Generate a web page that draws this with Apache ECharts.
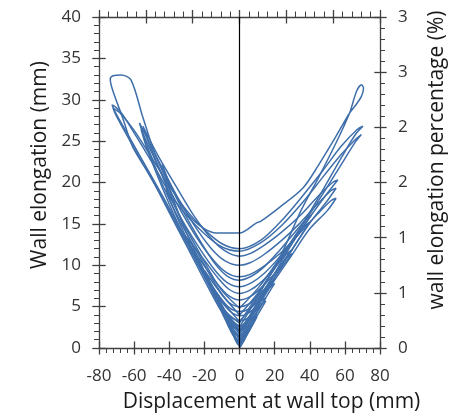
<!DOCTYPE html>
<html>
<head>
<meta charset="utf-8">
<script src="https://cdn.jsdelivr.net/npm/echarts@6/dist/echarts.min.js"></script>
<style>html,body{margin:0;padding:0;background:#fff}#c{width:462px;height:420px}</style>
</head>
<body>
<div id="c"></div>
<script>
// ---- data: displacement (mm), wall elongation (mm) per loading cycle ----
const cycle01 = [[0,0],[1.5,0.5],[3,1.1],[2.5,1.05],[1.2,0.75],[0,0.6],[-1.5,0.8],[-3,1.3],[-2.4,1.0],[-1.2,0.5],[0,0.2]];
const cycle02 = [[0,0.2],[2.5,0.9],[5,2.0],[4.2,1.9],[2,1.25],[0,1.0],[-2.5,1.3],[-5,2.3],[-4,1.8],[-2,0.9],[0,0.4]];
const cycle03 = [[0,0.4],[3.5,1.3],[7.5,2.9],[6.5,2.8],[3.5,2.0],[0,1.5],[-3.5,1.9],[-7.5,3.2],[-6.5,2.7],[-3.5,1.5],[0,0.6]];
const cycle04 = [[0,0.6],[5,1.9],[10,3.8],[8.5,3.6],[5,2.8],[2,2.2],[0,2.1],[-2,2.3],[-5,2.9],[-10,4.3],[-8.5,3.6],[-5,2.2],[-2,1.0],[0,0.7]];
const cycle05 = [[0,0.7],[5,2.1],[10,4.1],[8.5,3.9],[5,3.2],[2,2.8],[0,2.7],[-2,2.9],[-5,3.4],[-10,4.6],[-8.5,3.9],[-5,2.5],[-2,1.2],[0,0.9]];
const cycle06 = [[0,0.9],[5,2.3],[10,3.9],[15,5.7],[13,5.4],[8,4.2],[4,3.5],[0,3.3],[-4,3.6],[-8,4.4],[-15,6.6],[-13,5.7],[-8,3.7],[-4,2.1],[0,1.1]];
const cycle07 = [[0,1.1],[5,2.6],[10,4.3],[15,6.1],[13,5.8],[8,4.7],[4,4.1],[0,3.9],[-4,4.2],[-8,5.0],[-15,7.0],[-13,6.1],[-8,4.1],[-4,2.4],[0,1.4]];
const cycle08 = [[0,1.4],[5,2.8],[10,4.4],[15,6.1],[20,7.8],[18,7.5],[12,6.0],[6,4.8],[0,4.4],[-6,4.9],[-12,6.4],[-20,8.9],[-18,8.0],[-12,5.6],[-6,3.3],[0,1.7]];
const cycle09 = [[0,1.7],[5,3.1],[10,4.8],[15,6.6],[20,8.3],[18,8.0],[12,6.6],[6,5.4],[0,5.0],[-6,5.5],[-12,7.0],[-20,9.4],[-18,8.5],[-12,6.0],[-6,3.6],[0,2.0]];
const cycle10 = [[0,2.0],[6,3.8],[12,5.9],[18,7.9],[24,9.7],[30,11.4],[27,10.9],[20,9.0],[12,7.2],[6,6.2],[0,5.8],[-6,6.3],[-12,7.6],[-20,9.9],[-30,13.0],[-27,11.8],[-20,8.8],[-12,5.6],[-6,3.4],[0,2.1]];
const cycle11 = [[0,2.1],[6,4.0],[12,6.2],[18,8.3],[24,10.2],[30,11.9],[27,11.4],[20,9.7],[12,7.9],[6,7.0],[0,6.6],[-6,7.1],[-12,8.4],[-20,10.6],[-31,13.6],[-28,12.4],[-20,9.2],[-12,5.9],[-6,3.6],[0,1.8]];
const cycle12 = [[0,1.8],[8,4.2],[16,7.1],[24,9.9],[32,12.6],[40,15.2],[37,14.7],[30,12.9],[22,10.8],[14,9.0],[7,7.9],[0,7.4],[-7,7.9],[-14,9.4],[-22,11.8],[-32,15.2],[-42,19.3],[-39,17.5],[-30,13.2],[-20,8.9],[-10,4.8],[0,2.0]];
const cycle13 = [[0,2.0],[8,4.5],[16,7.5],[24,10.5],[32,13.3],[41,16.1],[38,15.6],[30,13.6],[22,11.6],[14,9.8],[7,8.7],[0,8.2],[-7,8.7],[-14,10.2],[-22,12.8],[-32,16.5],[-40,20.0],[-44,22.2],[-41,20.0],[-32,14.8],[-22,10.2],[-12,5.8],[0,2.2]];
const cycle14 = [[0,2.2],[10,5.0],[20,8.2],[30,11.3],[40,14.4],[50,16.6],[55,18.1],[52,17.8],[44,16.1],[34,13.8],[24,11.6],[14,9.9],[6,8.9],[0,8.6],[-8,9.2],[-16,10.9],[-26,13.9],[-36,17.6],[-46,21.8],[-56,26.4],[-53,24.3],[-44,19.4],[-34,14.6],[-22,9.9],[-11,6.0],[0,3.2]];
const cycle15 = [[0,3.2],[10,5.8],[20,8.9],[30,11.9],[40,15.1],[50,17.8],[55,19.3],[52,19.0],[44,17.3],[34,15.0],[24,13.0],[14,11.3],[6,10.3],[0,10.0],[-8,10.5],[-16,12.0],[-26,14.9],[-36,18.5],[-46,22.6],[-57,27.2],[-54,25.3],[-45,20.3],[-34,15.4],[-22,10.8],[-11,6.8],[0,4.0]];
const cycle16 = [[0,4.0],[10,6.5],[20,9.6],[30,12.7],[40,15.8],[50,18.7],[56,20.3],[53,20.0],[45,18.4],[35,16.1],[24,14.0],[14,12.4],[6,11.4],[0,11.1],[-8,11.7],[-16,13.2],[-26,16.0],[-36,19.5],[-46,23.1],[-55,26.8],[-52,25.0],[-44,20.8],[-34,15.9],[-22,11.2],[-11,7.2],[0,4.8]];
const cycle17 = [[0,4.8],[12,7.6],[24,11.2],[36,14.9],[48,18.8],[58,22.2],[66,24.9],[69.4,25.8],[66,25.2],[58,23.4],[48,20.8],[36,17.6],[24,14.8],[12,12.7],[0,11.7],[-10,12.2],[-20,13.8],[-30,16.0],[-40,18.8],[-50,22.5],[-60,26.0],[-68,28.6],[-72.6,29.4],[-71,28.6],[-62,25.2],[-50,20.7],[-40,16.9],[-30,12.9],[-20,8.8],[-10,4.9],[0,3.0]];
const cycle18 = [[0,3.0],[12,7.0],[24,11.0],[36,15.0],[48,19.3],[58,23.0],[66,25.8],[70.3,26.8],[67,26.4],[58,24.4],[48,21.6],[36,18.4],[24,15.4],[12,13.0],[0,12.0],[-10,12.6],[-20,14.3],[-30,16.6],[-40,19.6],[-50,23.0],[-60,26.3],[-68,28.4],[-72,29.0],[-70.5,28.2],[-62,24.9],[-50,20.4],[-40,16.6],[-30,12.6],[-20,8.6],[-10,4.7],[0,2.5]];
const cycle19 = [[0,2.5],[12,6.8],[24,11.4],[35,16.6],[45,20.6],[55,24.8],[62.7,28.4],[66.6,31.0],[69.5,31.8],[70.6,31.4],[69.4,30.4],[66,29.3],[62.7,28.4],[55,25.6],[45,22.1],[36,19.3],[22.8,17.0],[12,15.3],[9.5,15.1],[0,13.9],[-13.3,13.9],[-26.6,15.5],[-38,19.0],[-47.5,23.1],[-55.2,28.0],[-61.8,32.4],[-67.5,33.0],[-72,32.9],[-73.6,32.5],[-72.3,31.2],[-66.5,27.8],[-60.8,24.3],[-50,20.5],[-41.8,17.1],[-30,12.3],[-20,8.2],[-10,4.3],[0,1.2]];

const cycles = [cycle01,cycle02,cycle03,cycle04,cycle05,cycle06,cycle07,cycle08,cycle09,cycle10,
                cycle11,cycle12,cycle13,cycle14,cycle15,cycle16,cycle17,cycle18,cycle19];
const zeroLine = [0];
const rightTickLabels = ['0','1','1','2','2','3','3'];

// ---- chart ----
const FONT = 'Open Sans';
const AX = '#404040';
const TXT = '#333333';
const LINE = '#3f6fab';
const chart = echarts.init(document.getElementById('c'), null, {renderer: 'canvas'});

const series = cycles.map((c, i) => ({
  type: 'line', data: c, xAxisIndex: 0, yAxisIndex: 0,
  showSymbol: false, smooth: 0.3, animation: false,
  lineStyle: {color: LINE, width: 1.5},
  markLine: i === 0 ? {
    silent: true, symbol: ['none','none'], animation: false,
    label: {show: false},
    lineStyle: {color: '#000', width: 1.2, type: 'solid'},
    data: zeroLine.map(v => ({xAxis: v}))
  } : undefined
}));

const tickStyle = {color: AX, width: 1.3};
chart.setOption({
  animation: false,
  grid: {left: 99, right: 82, top: 17, bottom: 72},
  xAxis: [
    {type:'value', position:'bottom', min:-80, max:80, interval:20,
     axisLine:{show:true, onZero:false, lineStyle:tickStyle},
     axisTick:{show:true, inside:false, length:6.5, lineStyle:tickStyle},
     minorTick:{show:true, splitNumber:5, length:5, lineStyle:{color:AX, width:1}},
     splitLine:{show:false},
     axisLabel:{fontSize:17, color:TXT, margin:20, fontFamily:FONT},
     name:'Displacement at wall top (mm)', nameLocation:'middle', nameGap:44,
     nameTextStyle:{fontSize:21, color:'#1a1a1a', fontFamily:FONT, padding:[0,0,0,64]}},
    {type:'value', position:'bottom', min:-80, max:80, interval:20,
     axisLine:{show:false, onZero:false}, axisTick:{show:true, inside:true, length:6.5, lineStyle:tickStyle},
     axisLabel:{show:false}, splitLine:{show:false}},
    {type:'value', position:'top', min:-3, max:3, interval:1,
     axisLine:{show:true, onZero:false, lineStyle:tickStyle},
     axisTick:{show:true, inside:false, length:7, lineStyle:tickStyle},
     minorTick:{show:true, splitNumber:5, length:5.5, lineStyle:{color:AX, width:1}},
     axisLabel:{show:false}, splitLine:{show:false}},
    {type:'value', position:'top', min:-3, max:3, interval:1,
     axisLine:{show:false, onZero:false}, axisTick:{show:true, inside:true, length:6.5, lineStyle:tickStyle},
     axisLabel:{show:false}, splitLine:{show:false}}
  ],
  yAxis: [
    {type:'value', position:'left', min:0, max:40, interval:5,
     axisLine:{show:true, onZero:false, lineStyle:tickStyle},
     axisTick:{show:true, inside:false, length:6.7, lineStyle:tickStyle},
     minorTick:{show:true, splitNumber:5, length:5, lineStyle:{color:AX, width:1}},
     splitLine:{show:false},
     axisLabel:{fontSize:17, color:TXT, margin:18, fontFamily:FONT},
     name:'Wall elongation (mm)', nameLocation:'middle', nameGap:47, nameRotate:90,
     nameTextStyle:{fontSize:21, color:'#1a1a1a', fontFamily:FONT, padding:[0,0,0,35]}},
    {type:'value', position:'left', min:0, max:40, interval:5,
     axisLine:{show:false, onZero:false}, axisTick:{show:true, inside:true, length:6.7, lineStyle:tickStyle},
     axisLabel:{show:false}, splitLine:{show:false}},
    {type:'value', position:'right', min:0, max:3, interval:0.5,
     axisLine:{show:true, onZero:false, lineStyle:tickStyle},
     axisTick:{show:true, inside:false, length:6.7, lineStyle:tickStyle},
     minorTick:{show:true, splitNumber:5, length:5, lineStyle:{color:AX, width:1}},
     splitLine:{show:false},
     axisLabel:{fontSize:17, color:TXT, margin:18, fontFamily:FONT,
                formatter:(v) => rightTickLabels[Math.round(v / 0.5)]},
     name:'wall elongation percentage (%)', nameLocation:'middle', nameGap:47, nameRotate:90,
     nameTextStyle:{fontSize:21, color:'#1a1a1a', fontFamily:FONT, padding:[0,0,0,45]}},
    {type:'value', position:'right', min:0, max:3, interval:0.5,
     axisLine:{show:false, onZero:false}, axisTick:{show:true, inside:true, length:5.7, lineStyle:tickStyle},
     axisLabel:{show:false}, splitLine:{show:false}}
  ],
  series: series
});
</script>
</body>
</html>
